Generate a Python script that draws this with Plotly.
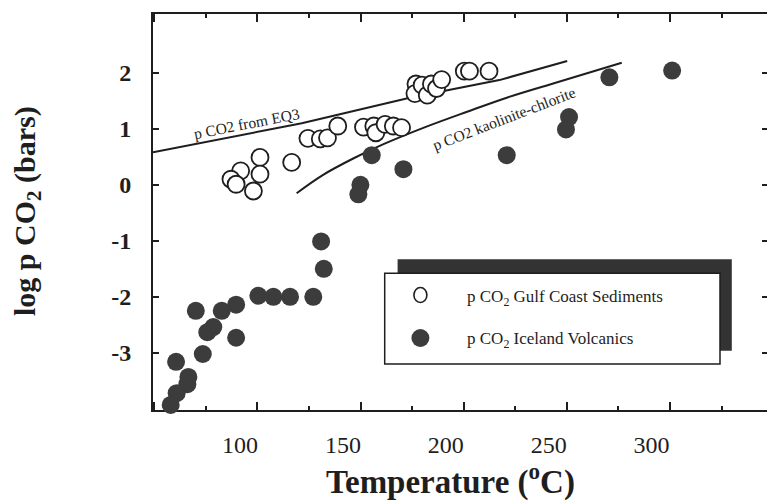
import plotly.graph_objects as go

# ---- data ----
gulf_T = [109.7, 125.1, 100.3, 109.7, 95.6, 98.1, 106.5,
          133.0, 139.0, 142.5, 147.5,
          160.0, 165.0, 166.0, 170.5, 174.5, 178.5,
          185.5, 185.0, 188.5, 191.0, 193.0, 195.5, 198.0,
          209.0, 211.5, 221.0]
gulf_logp = [0.49, 0.40, 0.25, 0.19, 0.10, 0.01, -0.11,
             0.83, 0.82, 0.84, 1.05,
             1.03, 1.05, 0.93, 1.08, 1.05, 1.02,
             1.80, 1.63, 1.78, 1.60, 1.80, 1.72, 1.88,
             2.03, 2.03, 2.03]

ice_T = [139.4, 140.7, 108.9, 116.2, 124.3, 135.6, 98.1, 91.1, 78.5, 87.0,
         84.1, 98.1, 81.9, 68.9, 74.9, 74.4, 69.2, 66.3, 70.5,
         164.0, 179.4, 158.5, 157.5, 310.0, 279.5, 259.9, 258.4, 229.6]
ice_logp = [-1.01, -1.50, -1.98, -2.00, -2.00, -2.00, -2.14, -2.25, -2.25, -2.54,
            -2.63, -2.73, -3.02, -3.16, -3.43, -3.56, -3.72, -3.93, -4.03,
            0.53, 0.28, 0.00, -0.17, 2.04, 1.92, 1.21, 0.99, 0.53]

eq3_T = [57.7, 130.0, 183.0, 226.0, 259.0]
eq3_logp = [0.58, 1.10, 1.56, 1.87, 2.21]

kc_T = [127.5, 140.0, 155.0, 170.0, 190.0, 210.0, 230.0, 255.0, 285.5]
kc_logp = [-0.15, 0.17, 0.47, 0.73, 1.03, 1.30, 1.56, 1.84, 2.18]

x_tickvals = [100, 150, 200, 250, 300]
x_ticktext = ["100", "150", "200", "250", "300"]
y_tickvals = [-3, -2, -1, 0, 1, 2]
y_ticktext = ["-3", "-2", "-1", "0", "1", "2"]

legend_labels = ["p CO<sub>2</sub> Gulf Coast Sediments",
                 "p CO<sub>2</sub> Iceland Volcanics"]
eq3_label = "p CO2 from EQ3"
kc_label = "p CO2 kaolinite-chlorite"
x_title = "Temperature (<sup>o</sup>C)"
y_title = "log p CO<sub>2</sub> (bars)"

# ---- styling ----
SERIF = "Liberation Serif"
INK = "#1e1e1e"
DARK = "#3c3c3c"
XR = [57.7, 356.1]
YR = [-4.02, 3.05]

fig = go.Figure()

fig.add_trace(go.Scatter(x=eq3_T, y=eq3_logp, mode="lines",
                         line=dict(color=INK, width=2), showlegend=False, hoverinfo="skip"))
fig.add_trace(go.Scatter(x=kc_T, y=kc_logp, mode="lines", line_shape="spline",
                         line=dict(color=INK, width=2), showlegend=False, hoverinfo="skip"))
fig.add_trace(go.Scatter(x=ice_T, y=ice_logp, mode="markers", cliponaxis=False,
                         marker=dict(size=18, color=DARK, line=dict(width=0)),
                         showlegend=False))
fig.add_trace(go.Scatter(x=gulf_T, y=gulf_logp, mode="markers", cliponaxis=False,
                         marker=dict(size=17, color="white", line=dict(width=1.8, color=INK)),
                         showlegend=False))
# invisible helper traces so the tick-only overlay axes are drawn
fig.add_trace(go.Scatter(x=[], y=[], xaxis="x2", yaxis="y", showlegend=False))
fig.add_trace(go.Scatter(x=[], y=[], xaxis="x", yaxis="y2", showlegend=False))

L, R, T, B = 153, 0, 14, 92
W, H = 767, 502
pw, ph = W - L - R, H - T - B


def px(xp):
    return (xp - L) / pw


def py(yp):
    return (H - B - yp) / ph


fig.update_layout(
    width=W, height=H,
    margin=dict(l=L, r=R, t=T, b=B, pad=0),
    paper_bgcolor="white", plot_bgcolor="white",
    showlegend=False,
    xaxis=dict(range=XR, tickvals=x_tickvals, ticktext=x_ticktext, ticks="",
               showline=True, linecolor=INK, linewidth=2, mirror=True,
               showgrid=False, zeroline=False, layer="below traces",
               tickfont=dict(family=SERIF, size=24, color=INK),
               ticklabelstandoff=12),
    xaxis2=dict(range=XR, overlaying="x", side="bottom", showline=False,
                showgrid=False, zeroline=False, showticklabels=False,
                ticks="inside", tick0=108.4, dtick=50.15, ticklen=8, tickwidth=1.6,
                tickcolor=INK, mirror="ticks", layer="below traces",
                minor=dict(ticks="inside", dtick=25.075, tick0=108.4, ticklen=4,
                           tickwidth=1.6, tickcolor=INK, showgrid=False)),
    yaxis=dict(range=YR, tickvals=y_tickvals, ticktext=y_ticktext, ticks="inside",
               ticklen=6, tickwidth=1.6, tickcolor=INK,
               showline=True, linecolor=INK, linewidth=2,
               showgrid=False, zeroline=False, layer="below traces",
               tickfont=dict(family=SERIF, size=24, color=INK, weight="bold"),
               ticklabelstandoff=15),
    yaxis2=dict(range=YR, overlaying="y", side="right", tickvals=y_tickvals,
                showticklabels=False, ticks="inside", ticklen=5, tickwidth=1.6,
                tickcolor=INK, showline=False, showgrid=False, zeroline=False),
)

shapes = []
# legend shadow and box
shapes.append(dict(type="rect", xref="paper", yref="paper",
                   x0=px(397.6), x1=px(731.8), y0=py(350.7), y1=py(259.3),
                   fillcolor="#333333", line=dict(width=0), layer="above"))
shapes.append(dict(type="rect", xref="paper", yref="paper",
                   x0=px(384.7), x1=px(720), y0=py(364), y1=py(273.3),
                   fillcolor="white", line=dict(color=INK, width=1.5), layer="above"))
# legend symbols
shapes.append(dict(type="circle", xref="paper", yref="paper", xsizemode="pixel",
                   ysizemode="pixel", xanchor=px(420.4), yanchor=py(295),
                   x0=-6.5, x1=6.5, y0=-7.5, y1=7.5,
                   fillcolor="white", line=dict(color=INK, width=1.6), layer="above"))
shapes.append(dict(type="circle", xref="paper", yref="paper", xsizemode="pixel",
                   ysizemode="pixel", xanchor=px(420.4), yanchor=py(338),
                   x0=-9, x1=9, y0=-9, y1=9,
                   fillcolor=DARK, line=dict(width=0), layer="above"))
fig.update_layout(shapes=shapes)

ann = []
ann.append(dict(text=legend_labels[0], xref="paper", yref="paper",
                x=px(464.5), y=py(298), xanchor="left", yanchor="middle",
                showarrow=False, font=dict(family=SERIF, size=17, color=INK)))
ann.append(dict(text=legend_labels[1], xref="paper", yref="paper",
                x=px(464.5), y=py(340), xanchor="left", yanchor="middle",
                showarrow=False, font=dict(family=SERIF, size=17, color=INK)))
ann.append(dict(text=eq3_label, xref="paper", yref="paper",
                x=px(246.7), y=py(123.3), xanchor="center", yanchor="middle",
                textangle=-11, showarrow=False,
                font=dict(family=SERIF, size=15.5, color=INK)))
ann.append(dict(text=kc_label, xref="paper", yref="paper",
                x=px(504), y=py(118), xanchor="center", yanchor="middle",
                textangle=-21, showarrow=False,
                font=dict(family=SERIF, size=15.5, color=INK)))
ann.append(dict(text=x_title, xref="paper", yref="paper",
                x=px(450), y=py(479), xanchor="center", yanchor="middle",
                showarrow=False,
                font=dict(family=SERIF, size=33, color=INK, weight="bold")))
ann.append(dict(text=y_title, xref="paper", yref="paper",
                x=px(27), y=py(211), xanchor="center", yanchor="middle",
                textangle=-90, showarrow=False,
                font=dict(family=SERIF, size=30, color=INK, weight="bold")))
fig.update_layout(annotations=ann)

fig.write_html("out.html")
